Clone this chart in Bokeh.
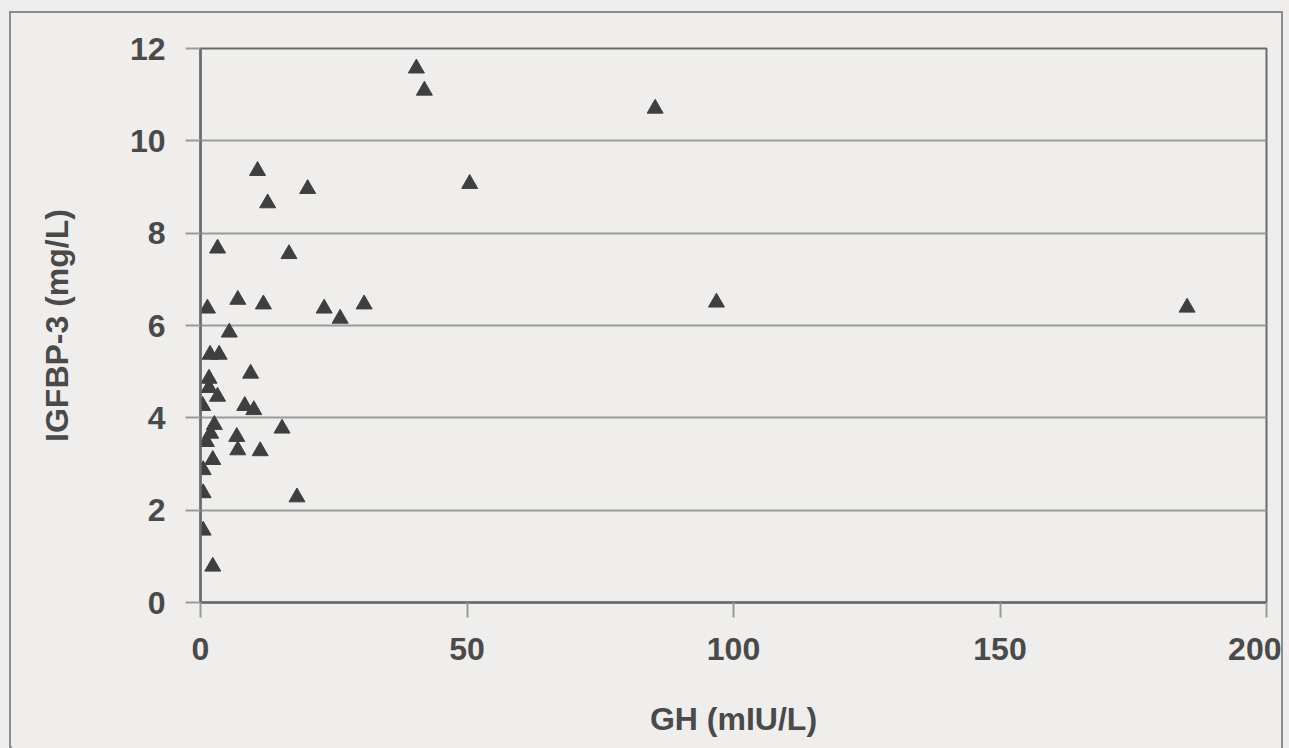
from bokeh.plotting import figure
from bokeh.layouts import column
from bokeh.models import ColumnDataSource, FixedTicker, Range1d
from bokeh.embed import file_html
from bokeh.resources import INLINE

# GH (mIU/L) vs IGFBP-3 (mg/L)
gh = [40.5, 42.0, 85.3, 10.7, 20.1, 12.6, 50.5, 3.2, 16.6, 1.3,
      7.0, 11.8, 23.2, 26.2, 30.7, 96.8, 185.1, 5.4, 1.8, 3.5,
      9.4, 1.6, 1.6, 3.2, 0.4, 8.3, 10.0, 2.6, 15.3, 1.9,
      6.8, 1.1, 7.0, 11.2, 2.3, 0.5, 0.5, 18.1, 0.5, 2.3]
igfbp3 = [11.57, 11.09, 10.7, 9.35, 8.96, 8.65, 9.07, 7.67, 7.55, 6.37,
          6.56, 6.46, 6.37, 6.15, 6.46, 6.5, 6.39, 5.85, 5.37, 5.37,
          4.96, 4.85, 4.65, 4.46, 4.26, 4.26, 4.17, 3.85, 3.77, 3.66,
          3.59, 3.48, 3.30, 3.28, 3.09, 2.87, 2.37, 2.28, 1.56, 0.78]

x_ticks = [0, 50, 100, 150, 200]
y_ticks = [0, 2, 4, 6, 8, 10, 12]

BG = "#efeeec"
LINE = "#6a6a6a"
TEXT = "#4a4a4a"
FONT = "Liberation Sans"

p = figure(width=1270, height=735, output_backend="svg", toolbar_location=None,
           x_range=Range1d(0, 200), y_range=Range1d(0, 12),
           min_border_left=189, min_border_right=19, min_border_top=35,
           min_border_bottom=148)
p.frame_width = 1062
p.frame_height = 552
p.background_fill_color = BG
p.border_fill_color = BG
p.outline_line_color = LINE
p.outline_line_width = 2
p.styles = {"border": "2px solid #8c8c8c", "margin-left": "9px", "margin-top": "11px"}

src = ColumnDataSource(data=dict(x=gh, y=igfbp3))
p.scatter("x", "y", source=src, marker="triangle", size=16,
          fill_color="#3f3f3f", line_color="#3f3f3f")

p.xgrid.grid_line_color = None
p.ygrid.grid_line_color = "#9a9a9a"
p.ygrid.grid_line_width = 2

for ax in (p.xaxis[0], p.yaxis[0]):
    ax.axis_line_color = LINE
    ax.axis_line_width = 2.5
    ax.major_tick_line_color = "#9a9a9a"
    ax.major_tick_line_width = 2
    ax.major_tick_in = 0
    ax.major_tick_out = 15
    ax.minor_tick_line_color = None
    ax.major_label_text_font = FONT
    ax.major_label_text_font_style = "bold"
    ax.major_label_text_font_size = "32px"
    ax.major_label_text_color = TEXT
    ax.axis_label_text_font = FONT
    ax.axis_label_text_font_style = "bold"
    ax.axis_label_text_font_size = "32px"
    ax.axis_label_text_color = TEXT

p.xaxis[0].ticker = FixedTicker(ticks=x_ticks)
p.yaxis[0].ticker = FixedTicker(ticks=y_ticks)
p.xaxis[0].major_label_standoff = 20
p.yaxis[0].major_label_standoff = 20
p.xaxis[0].axis_label = "GH (mIU/L)"
p.yaxis[0].axis_label = "IGFBP-3 (mg/L)"
p.xaxis[0].axis_label_standoff = 38
p.yaxis[0].axis_label_standoff = 52

layout = column(p, width=1289, height=748, styles={"background-color": BG})

open("out.html", "w").write(file_html(layout, INLINE))
